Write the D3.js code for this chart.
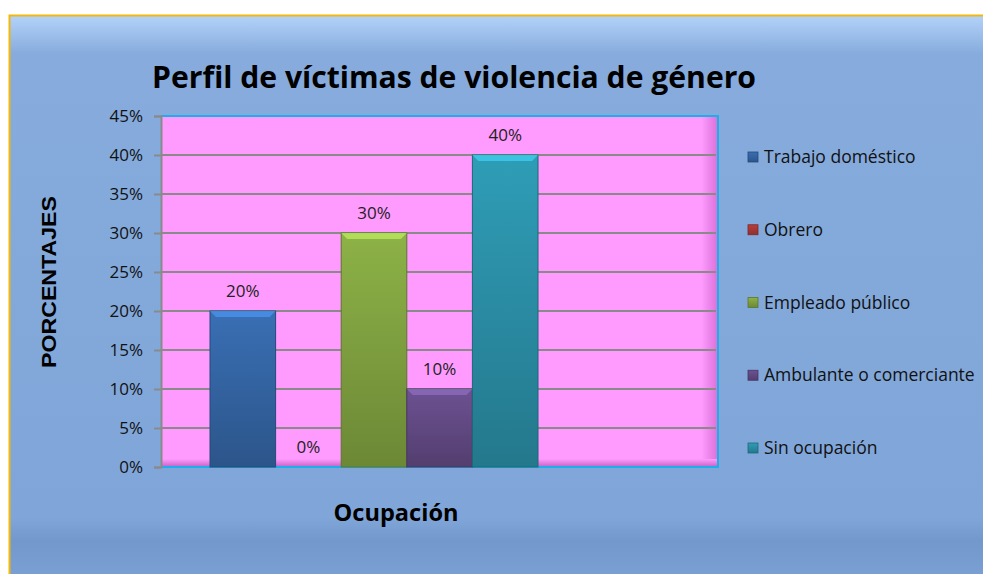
<!DOCTYPE html>
<html>
<head>
<meta charset="utf-8">
<script src="https://cdn.jsdelivr.net/npm/d3@7"></script>
<style>
  body { margin: 0; background: #fff; }
</style>
</head>
<body>
<div id="canvas"></div>
<script>
// datos del gráfico
var series = ["Trabajo doméstico", "Obrero", "Empleado público", "Ambulante o comerciante", "Sin ocupación"];
var values = [0.20, 0.00, 0.30, 0.10, 0.40];
var colors = ["#3669ab", "#b03b38", "#86a943", "#674d8a", "#2d95ad"];
var yTicks = [0, 0.05, 0.10, 0.15, 0.20, 0.25, 0.30, 0.35, 0.40, 0.45];

var W = 983, H = 574;
var FONT = "'Open Sans', 'DejaVu Sans', sans-serif";
svg = d3.select("#canvas").append("svg").attr("width", W).attr("height", H)
  .attr("font-family", FONT);
var defs = svg.append("defs");

// fondo con bisel
var bg = defs.append("linearGradient").attr("id", "bgGrad").attr("x1", 0).attr("y1", 0).attr("x2", 0).attr("y2", 1);
bg.append("stop").attr("offset", "0").attr("stop-color", "#b3d3fa");
bg.append("stop").attr("offset", "0.07").attr("stop-color", "#86abdc");
bg.append("stop").attr("offset", "0.90").attr("stop-color", "#80a6d9");
bg.append("stop").attr("offset", "0.94").attr("stop-color", "#7399cc");
bg.append("stop").attr("offset", "1").attr("stop-color", "#7a9fd2");

svg.append("rect").attr("x", 0).attr("y", 0).attr("width", W).attr("height", H).attr("fill", "#fff");
svg.append("rect").attr("x", 9).attr("y", 15).attr("width", W - 9).attr("height", H - 15)
  .attr("fill", "url(#bgGrad)");
svg.append("path").attr("d", "M9.5," + H + " L9.5,15.5 L" + W + ",15.5")
  .attr("fill", "none").attr("stroke", "#f2b70c").attr("stroke-width", 2);

// escalas
var plot = {left: 161, right: 718, top: 116, bottom: 467};
var y = d3.scaleLinear().domain([0, 0.45]).range([plot.bottom, plot.top]);
var x = d3.scaleBand().domain(series).range([210, 538]).padding(0);

// área del gráfico (rosa)
var pg = defs.append("linearGradient").attr("id", "plotGrad").attr("x1", 0).attr("y1", 0).attr("x2", 1).attr("y2", 0);
pg.append("stop").attr("offset", "0").attr("stop-color", "#ff9bff");
pg.append("stop").attr("offset", "0.97").attr("stop-color", "#ff9bff");
pg.append("stop").attr("offset", "1").attr("stop-color", "#d870d8");
svg.append("rect").attr("x", plot.left).attr("y", plot.top)
  .attr("width", plot.right - plot.left).attr("height", plot.bottom - plot.top)
  .attr("fill", "url(#plotGrad)");
var fl = defs.append("linearGradient").attr("id", "floorGrad").attr("x1", 0).attr("y1", 0).attr("x2", 0).attr("y2", 1);
fl.append("stop").attr("offset", "0").attr("stop-color", "#ff9bff");
fl.append("stop").attr("offset", "1").attr("stop-color", "#c660c6");
svg.append("rect").attr("x", plot.left).attr("y", plot.bottom - 8)
  .attr("width", plot.right - plot.left).attr("height", 8).attr("fill", "url(#floorGrad)");
svg.append("path")
  .attr("d", "M" + plot.left + "," + plot.top + " H" + plot.right + " V" + plot.bottom + " H" + plot.left)
  .attr("fill", "none").attr("stroke", "#1bb0ea").attr("stroke-width", 2);

// líneas de cuadrícula
svg.append("g").selectAll("line").data(yTicks.slice(1, -1)).enter().append("line")
  .attr("x1", plot.left).attr("x2", plot.right - 2)
  .attr("y1", function(d) { return y(d); }).attr("y2", function(d) { return y(d); })
  .attr("stroke", "#8a8a8a").attr("stroke-width", 2);

// eje Y
var yAxis = d3.axisLeft(y).tickValues(yTicks).tickSize(7).tickPadding(11)
  .tickFormat(function(d) { return Math.round(d * 100) + "%"; });
var ga = svg.append("g").attr("transform", "translate(" + plot.left + ",0)").call(yAxis);
ga.attr("font-family", FONT);
ga.select(".domain").attr("stroke", "#8a8a8a").attr("stroke-width", 2);
ga.selectAll(".tick line").attr("stroke", "#8a8a8a").attr("stroke-width", 2);
ga.selectAll(".tick text").attr("font-size", 17).attr("fill", "#111");

// barras con degradado
series.forEach(function(s, i) {
  var c = d3.color(colors[i]);
  var g = defs.append("linearGradient").attr("id", "bar" + i).attr("x1", 0).attr("y1", 0).attr("x2", 0).attr("y2", 1);
  g.append("stop").attr("offset", "0").attr("stop-color", c.brighter(0.15));
  g.append("stop").attr("offset", "1").attr("stop-color", c.darker(0.6));
});

var bars = svg.append("g").selectAll("g").data(series).enter().append("g");
bars.append("rect")
  .attr("x", function(d) { return x(d); })
  .attr("y", function(d, i) { return y(values[i]); })
  .attr("width", x.bandwidth())
  .attr("height", function(d, i) { return plot.bottom - y(values[i]); })
  .attr("fill", function(d, i) { return "url(#bar" + i + ")"; })
  .attr("stroke", function(d, i) { return d3.color(colors[i]).darker(1); })
  .attr("stroke-width", function(d, i) { return values[i] > 0 ? 1 : 0; });
// bisel superior
bars.append("path")
  .attr("d", function(d, i) {
    if (values[i] <= 0) return null;
    var x0 = x(d), x1 = x(d) + x.bandwidth(), yy = y(values[i]);
    return "M" + x0 + "," + yy + " H" + x1 + " L" + (x1 - 6) + "," + (yy + 6) + " H" + (x0 + 6) + " Z";
  })
  .attr("fill", function(d, i) { return d3.color(colors[i]).brighter(0.9); })
  .attr("opacity", 0.8);

// etiquetas de datos
bars.append("text")
  .attr("x", function(d) { return x(d) + x.bandwidth() / 2; })
  .attr("y", function(d, i) { return y(values[i]) - 14; })
  .attr("text-anchor", "middle").attr("font-size", 17).attr("fill", "#222")
  .text(function(d, i) { return Math.round(values[i] * 100) + "%"; });

// título
svg.append("text").attr("x", 454).attr("y", 88).attr("text-anchor", "middle")
  .attr("font-size", 31).attr("font-weight", "bold").attr("fill", "#000")
  .attr("textLength", 604).attr("lengthAdjust", "spacingAndGlyphs")
  .text("Perfil de víctimas de violencia de género");

// títulos de ejes
svg.append("text").attr("transform", "translate(56,282) rotate(-90)").attr("text-anchor", "middle")
  .attr("font-size", 21).attr("font-weight", "bold").attr("fill", "#000")
  .attr("font-family", "'Liberation Sans', Arial, sans-serif")
  .attr("textLength", 172).attr("lengthAdjust", "spacingAndGlyphs")
  .text("PORCENTAJES");
svg.append("text").attr("x", 396).attr("y", 521).attr("text-anchor", "middle")
  .attr("font-size", 23).attr("font-weight", "bold").attr("fill", "#000")
  .attr("textLength", 125).attr("lengthAdjust", "spacingAndGlyphs")
  .text("Ocupación");

// leyenda
var legY = d3.scalePoint().domain(series).range([157, 448]);
var leg = svg.append("g").selectAll("g").data(series).enter().append("g")
  .attr("transform", function(d) { return "translate(748," + legY(d) + ")"; });
leg.append("rect").attr("x", 0).attr("y", -5).attr("width", 10).attr("height", 10)
  .attr("fill", function(d, i) { return "url(#bar" + i + ")"; })
  .attr("stroke", function(d, i) { return d3.color(colors[i]).darker(1); }).attr("stroke-width", 0.8);
leg.append("text").attr("x", 16).attr("y", 0).attr("dy", "0.35em")
  .attr("font-size", 17.5).attr("fill", "#111")
  .text(function(d) { return d; });
</script>
</body>
</html>
